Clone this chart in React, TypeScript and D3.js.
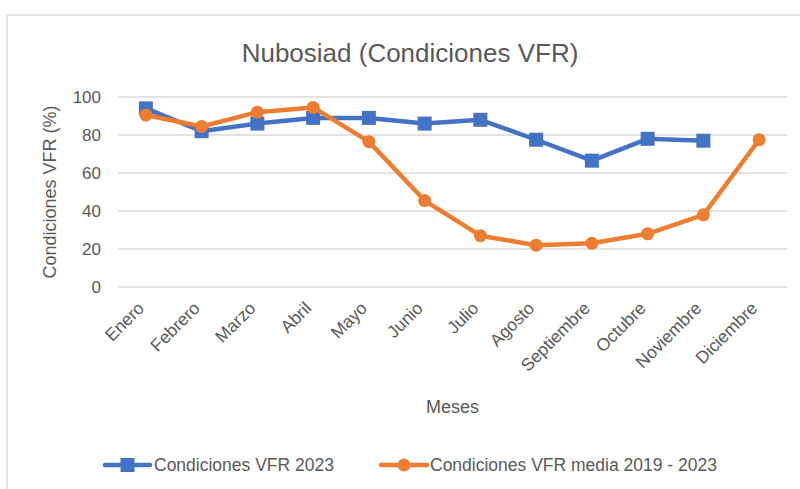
import { useEffect, useRef } from "react";
import * as d3 from "d3";

const months: string[] = [
  "Enero", "Febrero", "Marzo", "Abril", "Mayo", "Junio",
  "Julio", "Agosto", "Septiembre", "Octubre", "Noviembre", "Diciembre",
];

// Dic 2023 has no value
const vfr2023: (number | null)[] = [94, 82, 86, 89, 89, 86, 88, 77.5, 66.5, 78, 77, null];

const vfrMedia: number[] = [90.5, 84.5, 92, 94.5, 76.5, 45.5, 27, 22, 23, 28, 38, 77.5];

const yTicks: number[] = [0, 20, 40, 60, 80, 100];

const FONT = "'Liberation Sans', Arial, sans-serif";
const TEXT = "#595959";
const BLUE = "#4472C4";
const ORANGE = "#ED7D31";

function App() {
  const svgRef = useRef<SVGSVGElement>(null);

  useEffect(() => {
    if (!svgRef.current) return;
    const svg = d3.select(svgRef.current);
    svg.selectAll("*").remove();

    const width = 800;
    const height = 489;

    // plot area
    const left = 118;
    const right = 787;
    const top = 97;
    const bottom = 287;

    // outer frame (cut off at right and bottom)
    svg.append("rect")
      .attr("x", 7).attr("y", 15)
      .attr("width", 810).attr("height", 500)
      .attr("fill", "#fff")
      .attr("stroke", "#d9d9d9").attr("stroke-width", 1.5);

    const x = d3.scaleBand<string>().domain(months).range([left, right]);
    const y = d3.scaleLinear().domain([0, 100]).range([bottom, top]);
    const cx = (m: string) => (x(m) ?? 0) + x.bandwidth() / 2;

    // gridlines
    svg.append("g")
      .selectAll("line")
      .data(yTicks)
      .join("line")
      .attr("x1", left).attr("x2", right)
      .attr("y1", (d) => y(d)).attr("y2", (d) => y(d))
      .attr("stroke", "#d9d9d9").attr("stroke-width", 1.3);

    // y tick labels
    svg.append("g")
      .selectAll("text")
      .data(yTicks)
      .join("text")
      .attr("x", 101).attr("y", (d) => y(d))
      .attr("dy", "0.35em")
      .attr("text-anchor", "end")
      .attr("font-family", FONT).attr("font-size", 17)
      .attr("fill", TEXT)
      .text((d) => d);

    // x tick labels
    svg.append("g")
      .selectAll("text")
      .data(months)
      .join("text")
      .attr("transform", (d) => `translate(${cx(d) - 5},${bottom + 18}) rotate(-45)`)
      .attr("dy", "0.35em")
      .attr("text-anchor", "end")
      .attr("font-family", FONT).attr("font-size", 17.5)
      .attr("fill", TEXT)
      .text((d) => d);

    // title
    svg.append("text")
      .attr("x", 410).attr("y", 62)
      .attr("text-anchor", "middle")
      .attr("font-family", FONT).attr("font-size", 26)
      .attr("fill", TEXT)
      .text("Nubosiad (Condiciones VFR)");

    // axis titles
    svg.append("text")
      .attr("x", (left + right) / 2).attr("y", 413)
      .attr("text-anchor", "middle")
      .attr("font-family", FONT).attr("font-size", 18)
      .attr("fill", TEXT)
      .text("Meses");

    svg.append("text")
      .attr("transform", `translate(56,${(top + bottom) / 2}) rotate(-90)`)
      .attr("text-anchor", "middle")
      .attr("font-family", FONT).attr("font-size", 18)
      .attr("fill", TEXT)
      .text("Condiciones VFR (%)");

    // series 2023
    const line2023 = d3.line<number | null>()
      .defined((d) => d !== null)
      .x((_, i) => cx(months[i]))
      .y((d) => y(d as number));

    svg.append("path")
      .datum(vfr2023)
      .attr("d", line2023)
      .attr("fill", "none")
      .attr("stroke", BLUE).attr("stroke-width", 4.5)
      .attr("stroke-linejoin", "round");

    const sq = 14;
    svg.append("g")
      .selectAll("rect")
      .data(vfr2023.map((v, i) => ({ v, m: months[i] })).filter((d) => d.v !== null))
      .join("rect")
      .attr("x", (d) => cx(d.m) - sq / 2)
      .attr("y", (d) => y(d.v as number) - sq / 2)
      .attr("width", sq).attr("height", sq)
      .attr("fill", BLUE);

    // series media
    const lineMedia = d3.line<number>()
      .x((_, i) => cx(months[i]))
      .y((d) => y(d));

    svg.append("path")
      .datum(vfrMedia)
      .attr("d", lineMedia)
      .attr("fill", "none")
      .attr("stroke", ORANGE).attr("stroke-width", 4.5)
      .attr("stroke-linejoin", "round");

    svg.append("g")
      .selectAll("circle")
      .data(vfrMedia)
      .join("circle")
      .attr("cx", (_, i) => cx(months[i]))
      .attr("cy", (d) => y(d))
      .attr("r", 6.5)
      .attr("fill", ORANGE);

    // legend
    const legendY = 465;
    const lg = svg.append("g");

    lg.append("line")
      .attr("x1", 105).attr("x2", 150)
      .attr("y1", legendY).attr("y2", legendY)
      .attr("stroke", BLUE).attr("stroke-width", 4.5).attr("stroke-linecap", "round");
    lg.append("rect")
      .attr("x", 127.5 - sq / 2).attr("y", legendY - sq / 2)
      .attr("width", sq).attr("height", sq)
      .attr("fill", BLUE);
    lg.append("text")
      .attr("x", 154).attr("y", legendY).attr("dy", "0.35em")
      .attr("font-family", FONT).attr("font-size", 17.5)
      .attr("fill", TEXT)
      .text("Condiciones VFR 2023");

    lg.append("line")
      .attr("x1", 381).attr("x2", 427)
      .attr("y1", legendY).attr("y2", legendY)
      .attr("stroke", ORANGE).attr("stroke-width", 4.5).attr("stroke-linecap", "round");
    lg.append("circle")
      .attr("cx", 404).attr("cy", legendY)
      .attr("r", 6.5)
      .attr("fill", ORANGE);
    lg.append("text")
      .attr("x", 430).attr("y", legendY).attr("dy", "0.35em")
      .attr("font-family", FONT).attr("font-size", 17.5)
      .attr("fill", TEXT)
      .text("Condiciones VFR media 2019 - 2023");

    svg.attr("width", width).attr("height", height);
  }, []);

  return (
    <svg
      ref={svgRef}
      width={800}
      height={489}
      style={{ position: "absolute", left: 0, top: 0, display: "block" }}
    ></svg>
  );
}

export default App;
